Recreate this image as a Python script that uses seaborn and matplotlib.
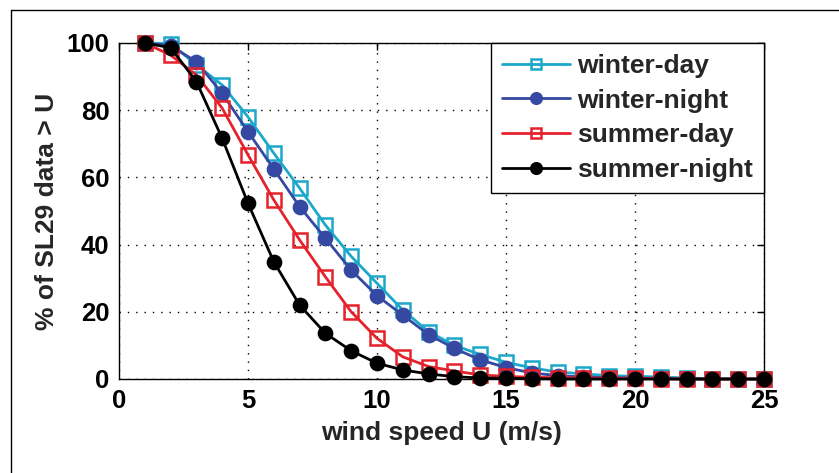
import matplotlib
matplotlib.use("Agg")
import matplotlib.pyplot as plt
from matplotlib.lines import Line2D
import pandas as pd
import seaborn as sns

# Exceedance curves: share of records with wind speed above U
wind_speed = list(range(1, 26))
winter_day = [100, 99.8, 93.5, 87.5, 78.0, 67.2, 56.8, 45.8, 36.5, 28.5, 20.5, 14.1,
              10.0, 7.3, 5.0, 3.3, 2.1, 1.5, 1.0, 0.8, 0.6, 0.3, 0.1, 0.0, 0.0]
winter_night = [100, 99.2, 94.4, 85.0, 73.6, 62.5, 51.3, 41.9, 32.4, 24.8, 19.0, 13.2,
                9.1, 5.7, 3.4, 1.8, 1.0, 0.6, 0.4, 0.3, 0.2, 0.0, 0.0, 0.0, 0.0]
summer_day = [100, 96.4, 90.5, 80.6, 66.7, 53.3, 41.4, 30.4, 20.0, 12.1, 6.6, 3.7,
              2.4, 1.2, 0.8, 0.5, 0.4, 0.3, 0.2, 0.2, 0.1, 0.0, 0.0, 0.0, 0.0]
summer_night = [100, 98.6, 88.5, 71.6, 52.3, 34.9, 22.0, 13.6, 8.4, 4.7, 2.7, 1.5,
                0.7, 0.3, 0.2, 0.1, 0.0, 0.0, 0.0, 0.0, 0.0, 0.0, 0.0, 0.0, 0.0]

series_names = ["winter-day", "winter-night", "summer-day", "summer-night"]
series_values = [winter_day, winter_night, summer_day, summer_night]
series_colors = ["#1CA8CA", "#3548A2", "#E5222B", "#000000"]
series_markers = ["s", "o", "s", "o"]
series_faces = ["none", "#3548A2", "none", "#000000"]

sns.set_theme(style="white")
plt.rcParams["font.family"] = ["Liberation Sans", "DejaVu Sans"]
plt.rcParams["font.weight"] = "bold"

fig = plt.figure(figsize=(8.39, 4.73), dpi=100)
fig.patch.set_facecolor("white")
ax = fig.add_axes([119 / 839, 1 - 379 / 473, (764 - 119) / 839, (379 - 43) / 473])

for name, vals, color, marker, face in zip(series_names, series_values, series_colors,
                                          series_markers, series_faces):
    df = pd.DataFrame({"U": wind_speed, "pct": vals})
    sns.lineplot(data=df, x="U", y="pct", ax=ax, color=color, linewidth=2.0,
                 marker=marker, markersize=9.5, markerfacecolor=face,
                 markeredgecolor=color, markeredgewidth=1.8, label=name,
                 clip_on=False, zorder=3)

ax.set_xlim(0, 25)
ax.set_ylim(0, 100)
ax.set_xticks([0, 5, 10, 15, 20, 25])
ax.set_yticks([0, 20, 40, 60, 80, 100])
ax.grid(True, linestyle=(0, (1, 5)), color="black", linewidth=1.0)
ax.set_axisbelow(True)
for spine in ax.spines.values():
    spine.set_color("black")
    spine.set_linewidth(1.0)
ax.tick_params(direction="in", top=True, right=True, length=5, width=1,
               labelsize=18.5, pad=7, colors="black")
for lab in ax.get_xticklabels() + ax.get_yticklabels():
    lab.set_fontweight("bold")

ax.set_xlabel("wind speed U (m/s)", fontsize=19, fontweight="bold", labelpad=6)
ax.set_ylabel("% of SL29 data > U", fontsize=19, fontweight="bold", labelpad=5)

leg = ax.legend(loc="upper right", borderaxespad=0, fontsize=19, frameon=True,
                fancybox=False, edgecolor="black", handlelength=2.6,
                handletextpad=0.25, labelspacing=0.4, borderpad=0.42,
                markerscale=0.8)
leg.get_frame().set_linewidth(1.0)
leg.get_frame().set_alpha(1)
for txt in leg.get_texts():
    txt.set_fontweight("bold")

# outer frame around the figure panel
fig.add_artist(Line2D([10.5 / 839, 10.5 / 839], [0, 1 - 10 / 473], color="black", linewidth=1.0))
fig.add_artist(Line2D([10.5 / 839, 1], [1 - 10 / 473, 1 - 10 / 473], color="black", linewidth=1.0))

fig.savefig("out.png", dpi=100)
